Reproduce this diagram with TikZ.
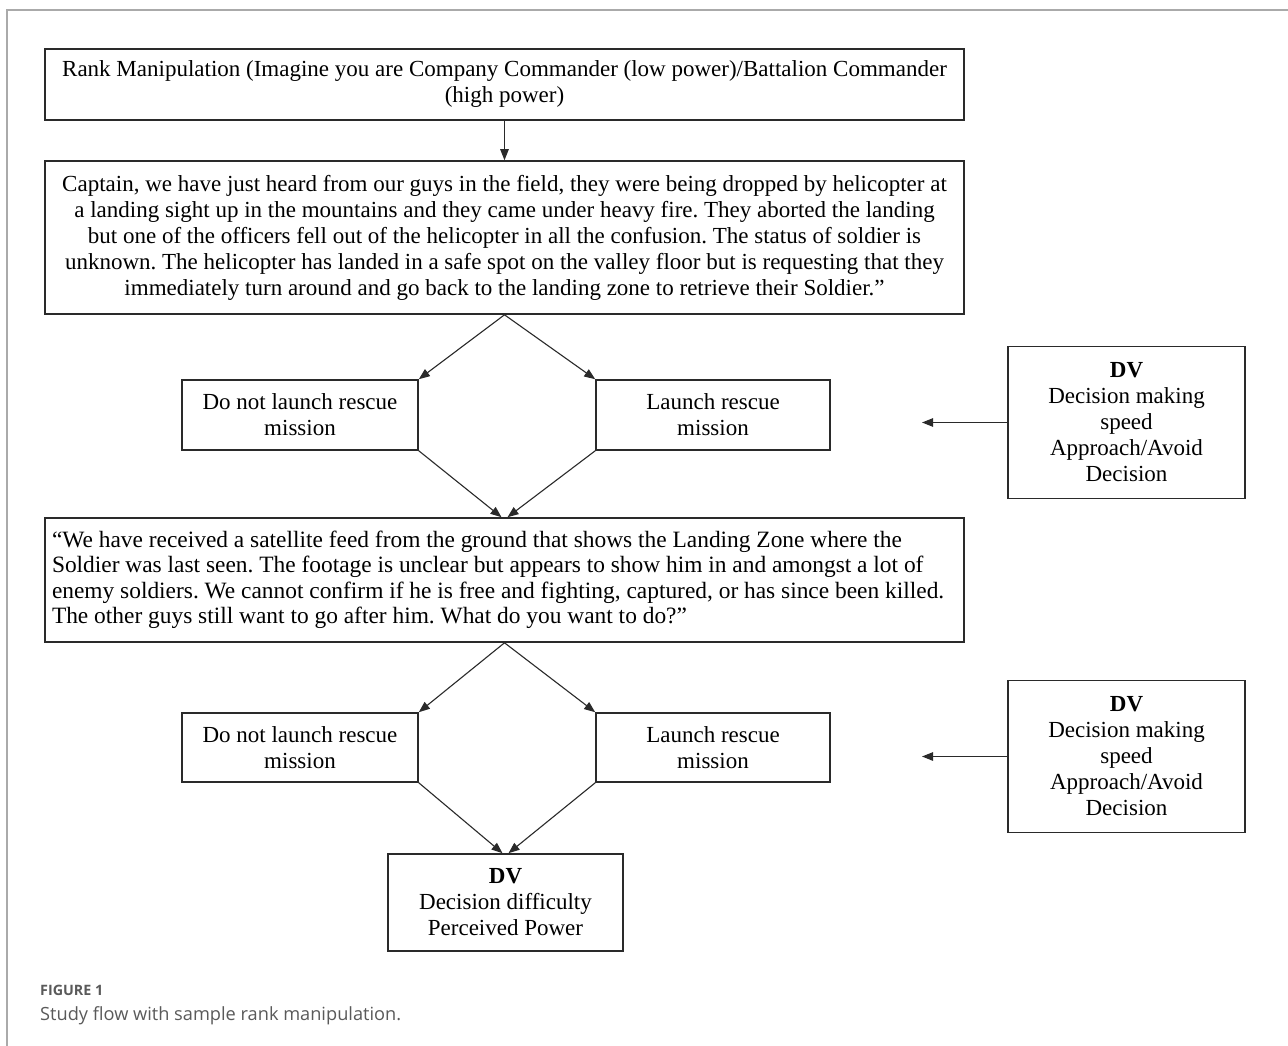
\documentclass[tikz,border=0pt]{standalone}
\usepackage{fontspec}
\setmainfont{Liberation Serif}
\newfontfamily\capfont{Open Sans}
\usetikzlibrary{arrows.meta}
\definecolor{ink}{HTML}{2A2A2A}
\definecolor{framegray}{HTML}{AAAAAA}
\definecolor{capgray}{HTML}{5A5A5A}
\frenchspacing
\tikzset{
  boxstyle/.style={draw=ink, line width=1.6pt, inner sep=0pt, align=center,
    font=\fontsize{23}{26}\selectfont, text=black},
  arr/.style={draw=ink, line width=1.1pt, -{Triangle[length=11pt,width=8.5pt]}},
}
\begin{document}
\begin{tikzpicture}[x=1pt,y=-1pt]
\useasboundingbox (0,0) rectangle (1288,1046);
\fill[white] (0,0) rectangle (1288,1046);
% outer frame
\draw[framegray, line width=1.5pt] (7,1046) -- (7,10) -- (1288,10);

\node[boxstyle, minimum width=919pt, minimum height=71pt] (top) at (504.5,84.5)
  {Rank Manipulation (Imagine you are Company Commander (low power)/Battalion Commander\\(high power)};

\node[boxstyle, minimum width=919pt, minimum height=153pt] (big1) at (504.5,237.5)
  {Captain, we have just heard from our guys in the field, they were being dropped by helicopter at\\
   a landing sight up in the mountains and they came under heavy fire. They aborted the landing\\
   but one of the officers fell out of the helicopter in all the confusion. The status of soldier is\\
   unknown. The helicopter has landed in a safe spot on the valley floor but is requesting that they\\
   immediately turn around and go back to the landing zone to retrieve their Soldier.''};

\node[boxstyle, minimum width=236pt, minimum height=70pt] (l1) at (300,415)
  {Do not launch rescue\\mission};
\node[boxstyle, minimum width=234pt, minimum height=70pt] (r1) at (713,415)
  {Launch rescue\\mission};
\node[boxstyle, minimum width=237pt, minimum height=152pt] (dv1) at (1126.5,422.5)
  {\textbf{DV}\\Decision making\\speed\\Approach/Avoid\\Decision};
\coordinate (dv1end) at (922,422.5);

\node[boxstyle, minimum width=919pt, minimum height=124pt, align=flush left, text width=905pt,
      font=\fontsize{23.4}{25.5}\selectfont] (big2) at (504.5,580)
  {``We have received a satellite feed from the ground that shows the Landing Zone where the\\
   Soldier was last seen. The footage is unclear but appears to show him in and amongst a lot of\\
   enemy soldiers. We cannot confirm if he is free and fighting, captured, or has since been killed.\\
   The other guys still want to go after him. What do you want to do?''};

\node[boxstyle, minimum width=236pt, minimum height=69pt] (l2) at (300,747.5)
  {Do not launch rescue\\mission};
\node[boxstyle, minimum width=234pt, minimum height=69pt] (r2) at (713,747.5)
  {Launch rescue\\mission};
\node[boxstyle, minimum width=237pt, minimum height=152pt] (dv2) at (1126.5,756.5)
  {\textbf{DV}\\Decision making\\speed\\Approach/Avoid\\Decision};
\coordinate (dv2end) at (922,756.5);

\node[boxstyle, minimum width=235pt, minimum height=97pt] (dv3) at (505.5,902.5)
  {\textbf{DV}\\Decision difficulty\\Perceived Power};

% connectors
\draw[arr] (top.south) -- (big1.north);
\draw[arr] (big1.south) -- (l1.north east);
\draw[arr] (big1.south) -- (r1.north west);
\draw[arr] (l1.south east) -- ([xshift=-3pt]big2.north);
\draw[arr] (r1.south west) -- ([xshift=3pt]big2.north);
\draw[arr] (dv1.west) -- (dv1.west -| dv1end);

\draw[arr] (big2.south) -- (l2.north east);
\draw[arr] (big2.south) -- (r2.north west);
\draw[arr] (l2.south east) -- ([xshift=-3pt]dv3.north);
\draw[arr] (r2.south west) -- ([xshift=3pt]dv3.north);
\draw[arr] (dv2.west) -- (dv2.west -| dv2end);

% caption
\node[anchor=base west, inner sep=0pt, text=capgray, font=\capfont\bfseries\fontsize{14.3}{16}\selectfont] (figlbl) at (40,995) {FIGURE 1};
\node[anchor=base west, inner sep=0pt, text=capgray, font=\capfont\fontsize{18.2}{21}\selectfont] (figcap) at (40,1020) {Study flow with sample rank manipulation.};
\end{tikzpicture}
\end{document}
